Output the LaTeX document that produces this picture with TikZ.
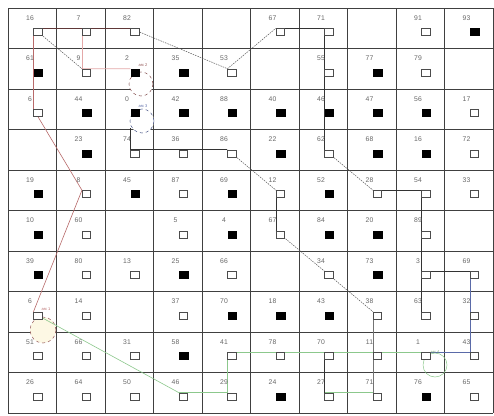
\documentclass[tikz,border=0pt]{standalone}
\usepackage{fontspec}
\setmainfont{Liberation Sans}
\pgfdeclarelayer{gridlayer}
\pgfdeclarelayer{circlayer}
\pgfdeclarelayer{linelayer}
\pgfsetlayers{gridlayer,circlayer,linelayer,main}
\definecolor{redl}{HTML}{B86A6A}
\definecolor{pinkl}{HTML}{E4A8A8}
\definecolor{greenl}{HTML}{8CC88C}
\definecolor{bluel}{HTML}{5A6AA8}
\definecolor{maroonl}{HTML}{603838}
\definecolor{creamf}{HTML}{FDF8E4}
\begin{document}
\begin{tikzpicture}[x=1pt,y=-1pt,
  gridl/.style={draw=black!75,line width=0.7pt},
  hq/.style={draw=black!70,fill=white,minimum width=8.5pt,minimum height=7pt,inner sep=0pt,line width=0.6pt},
  fq/.style={draw=black,fill=black,minimum width=8.5pt,minimum height=7pt,inner sep=0pt,line width=0.4pt},
  lab/.style={font=\fontsize{6.8}{7}\selectfont,text=black!60,inner sep=0pt},
  arclab/.style={font=\fontsize{4}{4}\selectfont,inner sep=0pt},
  darkline/.style={draw=black!80,line width=0.6pt},
  diagline/.style={draw=black!65,line width=0.5pt,dash pattern=on 1.5pt off 1pt},
  redline/.style={draw=redl,line width=0.6pt},
  pinkline/.style={draw=pinkl,line width=0.6pt},
  greenline/.style={draw=greenl,line width=0.6pt},
  blueline/.style={draw=bluel,line width=0.6pt},
  loopc/.style={circle,minimum size=24pt,inner sep=0pt,line width=0.5pt,dashed}]
\useasboundingbox (0,0) rectangle (494,415);
\begin{pgfonlayer}{gridlayer}
\fill[white] (0,0) rectangle (494,415);
\foreach \i in {0,...,10} {
  \draw[gridl] ({8+48.5*\i},8) -- ({8+48.5*\i},413);
  \draw[gridl] (8,{8+40.5*\i}) -- (493,{8+40.5*\i});
}
\end{pgfonlayer}
% squares
\foreach \c/\r in {0/0,1/0,2/0,5/0,6/0,8/0,1/1,4/1,6/1,8/1,0/2,9/2,2/3,3/3,4/3,6/3,9/3,1/4,3/4,5/4,7/4,8/4,9/4,1/5,3/5,5/5,8/5,1/6,2/6,4/6,6/6,8/6,9/6,0/7,1/7,3/7,7/7,8/7,9/7,0/8,1/8,2/8,4/8,5/8,6/8,7/8,8/8,9/8,0/9,1/9,2/9,3/9,4/9,6/9,7/9,9/9}
  \node[hq] (q\c\r) at ({38+48.5*\c},{32+40.5*\r}) {};
\foreach \c/\r in {9/0,0/1,2/1,3/1,7/1,1/2,2/2,3/2,4/2,5/2,6/2,7/2,8/2,1/3,5/3,7/3,8/3,0/4,2/4,4/4,6/4,0/5,4/5,6/5,7/5,0/6,3/6,7/6,4/7,5/7,6/7,3/8,5/9,8/9}
  \node[fq] (q\c\r) at ({38+48.5*\c},{32+40.5*\r}) {};
% labels
\foreach \c/\r/\t in {0/0/16,1/0/7,2/0/82,5/0/67,6/0/71,8/0/91,9/0/93,
  0/1/61,1/1/9,2/1/2,3/1/35,4/1/53,6/1/55,7/1/77,8/1/79,
  0/2/6,1/2/44,2/2/0,3/2/42,4/2/88,5/2/40,6/2/46,7/2/47,8/2/56,9/2/17,
  1/3/23,2/3/74,3/3/36,4/3/86,5/3/22,6/3/62,7/3/68,8/3/16,9/3/72,
  0/4/19,1/4/8,2/4/45,3/4/87,4/4/69,5/4/12,6/4/52,7/4/28,8/4/54,9/4/33,
  0/5/10,1/5/60,3/5/5,4/5/4,5/5/67,6/5/84,7/5/20,8/5/89,
  0/6/39,1/6/80,2/6/13,3/6/25,4/6/66,6/6/34,7/6/73,8/6/3,9/6/69,
  0/7/6,1/7/14,3/7/37,4/7/70,5/7/18,6/7/43,7/7/38,8/7/63,9/7/32,
  0/8/51,1/8/66,2/8/31,3/8/58,4/8/41,5/8/78,6/8/70,7/8/11,8/8/1,9/8/43,
  0/9/26,1/9/64,2/9/50,3/9/46,4/9/29,5/9/24,6/9/27,7/9/71,8/9/76,9/9/65}
  \node[lab] (l\c\r) at ({30+48.5*\c},{18+40.5*\r}) {\t};
% loop circles
\begin{pgfonlayer}{circlayer}
\node[loopc,minimum size=26pt,draw=redl!80!black,fill=creamf] (k1) at (43,330) {};
\node[loopc,draw=redl!70!black,fill=white] (k2) at (141,84) {};
\node[loopc,draw=bluel!80!black,fill=white] (k3) at (142,121) {};
\node[loopc,draw=greenl,solid,fill=white,fill opacity=0] (k4) at (435,365) {};
\end{pgfonlayer}
\node[arclab,text=redl] (a1) at (46,309) {arc 1};
\node[arclab,text=redl!80!black] (a2) at (143,65) {arc 2};
\node[arclab,text=bluel] (a3) at (143,106) {arc 3};
\node[arclab,text=greenl!80!black] (a4) at (435,352) {arc 4};
% connectors
\begin{pgfonlayer}{linelayer}
% dark route
\draw[draw=maroonl,line width=0.6pt] (q00.north west) -- (q20.north west);
\draw[diagline] (q20.north west) -- (q41.north west);
\draw[diagline] (q41.north west) -- (q50.north west);
\draw[darkline] (q50.north west) -- (q60.north west);
\draw[darkline] (q60.north west) -- (q63.north west);
\draw[diagline] (q63.north west) -- (q74.north west);
\draw[darkline] (q74.north west) -- (q84.north west);
\draw[darkline] (q84.north west) -- (q87.north west);
\draw[diagline] (q00.north west) -- (q11.north west);
% red route
\draw[redline] (q00.north west) -- (q02.north west);
\draw[redline] (q02.north west) -- (q14.north west);
\draw[redline] (q14.north west) -- (q07.north west);
\draw[pinkline] (q10.north west) -- (q11.north west);
\draw[pinkline] (q11.north west) -- (q21.north west);
% middle route
\draw[darkline] (q23.north west) -- (q23.north west |- k3.214);
\draw[darkline] (q23.north west) -- (q43.north west);
\draw[diagline] (q43.north west) -- (q54.north west);
\draw[darkline] (q54.north west) -- (q55.north west);
\draw[diagline] (q55.north west) -- (q66.north west);
\draw[diagline] (q66.north west) -- (q77.north west);
\draw[draw=black!55,line width=0.6pt] (q77.north west) -- (q79.north west);
\draw[greenline] (q79.north west) -- (q69.north west);
\draw[darkline] (q69.north west) -- (q68.north west);
% blue route
\draw[darkline] (q86.north west) -- (q96.north west);
\draw[blueline] (q96.north west) -- (q98.north west);
\draw[blueline] (q98.north west) -- (q88.north west);
% green route
\draw[greenline] (q07.center) -- (q39.north west);
\draw[greenline] (q39.north west) -- (q49.north west);
\draw[greenline] (q49.north west) -- (q48.north west);
\draw[greenline] (q48.north west) -- (q88.north west);
\end{pgfonlayer}
\end{tikzpicture}
\end{document}
